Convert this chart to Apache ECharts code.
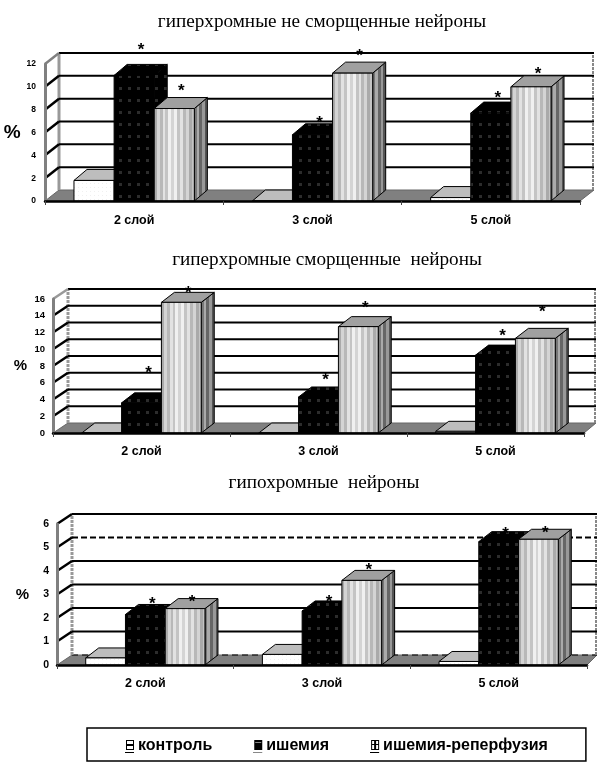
<!DOCTYPE html>
<html>
<head>
<meta charset="utf-8">
<style>
  html, body { margin: 0; padding: 0; background: #fff; }
  #main { width: 597px; height: 762px; }
</style>
<script src="https://cdn.jsdelivr.net/npm/echarts@6/dist/echarts.min.js"></script>
</head>
<body>
<div id="main"></div>
<script>
const categories = ['2 слой', '3 слой', '5 слой']
const seriesNames = ['контроль', 'ишемия', 'ишемия-реперфузия']

// гиперхромные не сморщенные нейроны
const title1 = 'гиперхромные не сморщенные нейроны'
const control1 = [1.8, 0, 0.3]
const ischemia1 = [11, 5.8, 7.7]
const reperfusion1 = [8.1, 11.2, 10]
const ticks1 = [0, 2, 4, 6, 8, 10, 12]
const stars1 = [[null, 13.5, 9.9], [null, 7.1, 12.9], [null, 9.3, 11.4]]

// гиперхромные сморщенные нейроны
const title2 = 'гиперхромные сморщенные  нейроны'
const control2 = [0, 0, 0.2]
const ischemia2 = [3.6, 4.3, 9.3]
const reperfusion2 = [15.6, 12.7, 11.3]
const ticks2 = [0, 2, 4, 6, 8, 10, 12, 14, 16]
const stars2 = [[null, 7.5, 17], [null, 6.6, 15.3], [null, 11.9, 14.8]]

// гипохромные нейроны
const title3 = 'гипохромные  нейроны'
const control3 = [0.3, 0.45, 0.15]
const ischemia3 = [2.15, 2.3, 5.25]
const reperfusion3 = [2.4, 3.6, 5.35]
const ticks3 = [0, 1, 2, 3, 4, 5, 6]
const stars3 = [[null, 2.7, 2.78], [null, 2.8, 4.15], [null, 5.7, 5.75]]

const charts = [
  { title: title1, titleX: 322, titleTop: 12, values: [control1, ischemia1, reperfusion1], ticks: ticks1, stars: stars1,
    left: 45, right: 17, top: 64, height: 137, wallDx: 14, wallRightDx: 14, dy: 11, labelSize: 8.5, labelMargin: 9, catMargin: 13,
    unitSize: 19, unitGap: 21, unitPad: 8, dashed: [], topSlant: '#808080', wallDash: null },
  { title: title2, titleX: 327, titleTop: 250, values: [control2, ischemia2, reperfusion2], ticks: ticks2, stars: stars2,
    left: 53, right: 13, top: 299, height: 134, wallDx: 15, wallRightDx: 12, dy: 10, labelSize: 9.5, labelMargin: 8, catMargin: 12,
    unitSize: 15, unitGap: 26, unitPad: 14, dashed: [], topSlant: '#999', wallDash: [3, 1] },
  { title: title3, titleX: 324, titleTop: 473, values: [control3, ischemia3, reperfusion3], ticks: ticks3, stars: stars3,
    left: 57, right: 10, top: 524, height: 141, wallDx: 15, wallRightDx: 10, dy: 10, labelSize: 10.5, labelMargin: 8, catMargin: 12,
    unitSize: 15, unitGap: 28, unitPad: 0, dashed: [0, 5], topSlant: '#000', wallDash: [3, 1] }
]

// узоры заливки столбиков
function makePattern(w, h, draw) {
  const c = document.createElement('canvas')
  c.width = w
  c.height = h
  draw(c.getContext('2d'))
  return { image: c, repeat: 'repeat' }
}
function dots(w, h, bg, fg, s) {
  return makePattern(w, h, ctx => {
    ctx.fillStyle = bg
    ctx.fillRect(0, 0, w, h)
    ctx.fillStyle = fg
    ctx.fillRect(2, 3, s, s)
  })
}
const blackFill = dots(9, 12, '#000', '#2c2c2c', 3)
const whiteFill = dots(4, 4, '#fff', '#f0f0f0', 1)
const controlTop = dots(3, 3, '#bdbdbd', '#a8a8a8', 1)
const stripeTop = dots(3, 3, '#a0a0a0', '#6c6c6c', 1)

function stripes(colors) {
  const stops = []
  colors.forEach((col, i) => {
    stops.push({ offset: i / colors.length, color: col })
    stops.push({ offset: (i + 1) / colors.length, color: col })
  })
  return new echarts.graphic.LinearGradient(0, 0, 1, 0, stops)
}
const stripeFront = stripes(['#aaa', '#d4d4d4', '#b8b8b8', '#e2e2e2', '#c4c4c4', '#f0f0f0', '#d4d4d4', '#f0f0f0', '#c4c4c4', '#e2e2e2', '#b8b8b8', '#d4d4d4', '#aaa', '#c4c4c4'])
const stripeSide = stripes(['#777', '#aaa', '#666', '#999', '#555'])

const faces = [
  { front: whiteFill, top: controlTop, side: '#ddd' },
  { front: blackFill, top: blackFill, side: blackFill },
  { front: stripeFront, top: stripeTop, side: stripeSide }
]

// левая стенка, задняя стенка и пол
function renderWall(chart) {
  return function (params, api) {
    const tick = api.value(0)
    const box = params.coordSys
    const p = api.coord([0, tick])
    const y = p[1]
    const x0 = box.x
    const x1 = box.x + box.width
    const backL = x0 + chart.wallDx
    const backR = x1 + chart.wallRightDx
    const isDashed = chart.dashed.indexOf(tick) >= 0
    const last = chart.ticks[chart.ticks.length - 1]
    const children = []
    if (tick === 0) {
      const topY = api.coord([0, last])[1]
      children.push({ type: 'polygon', shape: { points: [[x0, y], [x1, y], [backR, y - chart.dy], [backL, y - chart.dy]] },
        style: { fill: '#808080', stroke: '#666', lineWidth: 1 } })
      if (isDashed) {
        children.push({ type: 'line', shape: { x1: backL, y1: y - chart.dy, x2: backR, y2: y - chart.dy },
          style: { stroke: '#000', lineWidth: 1, lineDash: [6, 4] } })
      }
      children.push({ type: 'line', shape: { x1: backL, y1: y - chart.dy, x2: backL, y2: topY - chart.dy },
        style: { stroke: '#999', lineWidth: 3, lineDash: chart.wallDash } })
      children.push({ type: 'line', shape: { x1: backR - 1, y1: y - chart.dy, x2: backR - 1, y2: topY - chart.dy },
        style: { stroke: '#888', lineWidth: 2, lineDash: [3, 1] } })
    } else {
      children.push({ type: 'line', shape: { x1: backL, y1: y - chart.dy, x2: backR, y2: y - chart.dy },
        style: { stroke: '#000', lineWidth: 2, lineDash: isDashed ? [6, 3] : null } })
      children.push({ type: 'line', shape: { x1: x0, y1: y, x2: backL, y2: y - chart.dy },
        style: { stroke: tick === last ? chart.topSlant : '#000', lineWidth: 2.5 } })
    }
    return { type: 'group', children: children }
  }
}

// столбик в псевдо-3D: передняя грань, бок и верх
function renderBar(chart, index) {
  return function (params, api) {
    const cat = api.value(0)
    const band = api.size([1, 0])[0]
    const w = band * 0.225
    const center = api.coord([cat, 0])
    const top = api.coord([cat, api.value(1)])
    const x = center[0] - 1.5 * w + index * w
    const y0 = center[1]
    const y1 = top[1]
    const dx = 13
    const dy = chart.dy
    const f = faces[index]
    const edge = { stroke: '#000', lineWidth: 1 }
    return {
      type: 'group',
      children: [
        { type: 'polygon', shape: { points: [[x + w, y1], [x + w + dx, y1 - dy], [x + w + dx, y0 - dy], [x + w, y0]] },
          style: Object.assign({ fill: f.side }, edge) },
        { type: 'polygon', shape: { points: [[x, y1], [x + dx, y1 - dy], [x + w + dx, y1 - dy], [x + w, y1]] },
          style: Object.assign({ fill: f.top }, edge) },
        { type: 'rect', shape: { x: x, y: y1, width: w, height: y0 - y1 },
          style: Object.assign({ fill: f.front }, edge) }
      ]
    }
  }
}

function renderStar(params, api) {
  const band = api.size([1, 0])[0]
  const w = band * 0.225
  const p = api.coord([api.value(0), api.value(1)])
  const x = p[0] - 1.5 * w + api.value(2) * w + w / 2 + 7
  return {
    type: 'text',
    style: { x: x, y: p[1] + 3, text: '*', fill: '#000', font: 'bold 17px "Liberation Sans"', textAlign: 'center', textVerticalAlign: 'middle' }
  }
}

function legendIcon(draw) {
  const c = document.createElement('canvas')
  c.width = 10
  c.height = 14
  const ctx = c.getContext('2d')
  ctx.fillStyle = '#fff'
  ctx.fillRect(0, 0, 10, 14)
  ctx.fillStyle = '#000'
  draw(ctx)
  ctx.fillRect(0, 13, 9, 1)
  return 'image://' + c.toDataURL()
}
function boxIcon(ctx) {
  ctx.strokeStyle = '#000'
  ctx.lineWidth = 1
  ctx.strokeRect(1.5, 1.5, 7, 9)
}
const icons = [
  legendIcon(ctx => { boxIcon(ctx); ctx.fillRect(1, 5, 8, 2) }),
  legendIcon(ctx => { ctx.fillRect(1, 1, 8, 10); ctx.fillStyle = '#888'; ctx.fillRect(2, 3, 6, 1) }),
  legendIcon(ctx => { boxIcon(ctx); ctx.fillRect(1, 5, 8, 1); ctx.fillRect(4, 1, 2, 10) })
]

const titles = []
const grids = []
const xAxes = []
const yAxes = []
const series = []
charts.forEach((chart, i) => {
  titles.push({
    text: chart.title, left: chart.titleX, top: chart.titleTop, textAlign: 'center', padding: 0,
    textStyle: { fontFamily: 'Liberation Serif', fontSize: 19.2, fontWeight: 'normal', color: '#000' }
  })
  grids.push({ left: chart.left, right: chart.right, top: chart.top, height: chart.height })
  xAxes.push({
    gridIndex: i, type: 'category', data: categories, z: 5,
    axisLine: { lineStyle: { color: '#000', width: 2.5 } },
    axisTick: { show: true, length: 4, lineStyle: { color: '#444' } },
    axisLabel: { fontFamily: 'Liberation Sans', fontWeight: 'bold', fontSize: 12.5, color: '#000', margin: chart.catMargin }
  })
  yAxes.push({
    gridIndex: i, type: 'value', min: 0, max: chart.ticks[chart.ticks.length - 1], interval: chart.ticks[1], z: 5,
    name: '%', nameLocation: 'middle', nameRotate: 0, nameGap: chart.unitGap,
    nameTextStyle: { fontFamily: 'Liberation Sans', fontWeight: 'bold', fontSize: chart.unitSize, color: '#000', padding: [chart.unitPad, 0, 0, 0] },
    axisLine: { show: true, lineStyle: { color: '#808080', width: 3 } },
    axisTick: { show: false },
    splitLine: { show: false },
    axisLabel: { fontFamily: 'Liberation Sans', fontWeight: 'bold', fontSize: chart.labelSize, color: '#000', margin: chart.labelMargin }
  })
  series.push({
    type: 'custom', xAxisIndex: i, yAxisIndex: i, silent: true, z: 1,
    data: chart.ticks.map(t => [t]), encode: { y: 0 },
    renderItem: renderWall(chart)
  })
  chart.values.forEach((vals, k) => {
    series.push({
      type: 'custom', name: seriesNames[k], xAxisIndex: i, yAxisIndex: i, silent: true, z: 2,
      data: vals.map((v, c) => [c, v]), encode: { x: 0, y: 1 },
      renderItem: renderBar(chart, k)
    })
  })
  const starData = []
  chart.stars.forEach((row, c) => row.forEach((v, k) => { if (v !== null) starData.push([c, v, k]) }))
  series.push({
    type: 'custom', xAxisIndex: i, yAxisIndex: i, silent: true, z: 3,
    data: starData, encode: { x: 0, y: 1 },
    renderItem: renderStar
  })
})

const myChart = echarts.init(document.getElementById('main'), null, { renderer: 'canvas' })
myChart.setOption({
  animation: false,
  backgroundColor: '#fff',
  title: titles,
  grid: grids,
  xAxis: xAxes,
  yAxis: yAxes,
  series: series,
  legend: {
    left: 87, top: 728, selectedMode: false,
    padding: [10, 38, 7, 38], itemGap: 41, itemWidth: 10, itemHeight: 14,
    borderColor: '#000', borderWidth: 1.5,
    data: seriesNames.map((n, i) => ({ name: n, icon: icons[i] })),
    textStyle: { fontFamily: 'Liberation Sans', fontWeight: 'bold', fontSize: 16, color: '#000', padding: [0, 0, 0, -2] }
  }
})
</script>
</body>
</html>
